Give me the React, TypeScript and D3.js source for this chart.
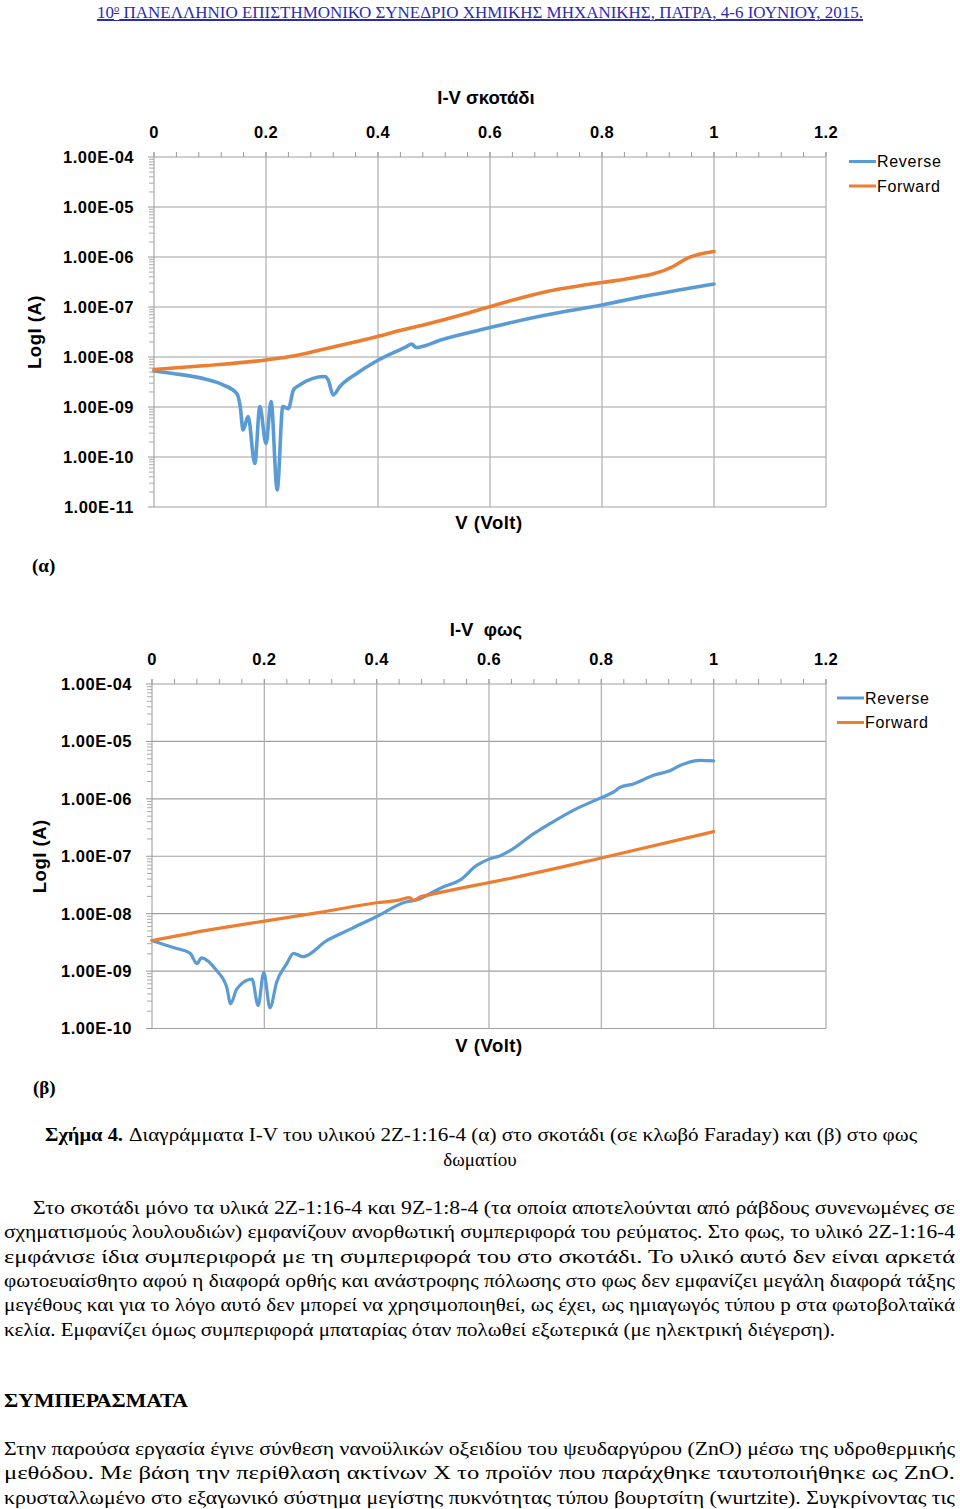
import React, { useRef, useEffect } from 'react';
import * as d3 from 'd3';

// I-V in the dark (a)
const darkReverseV = [0, 0.034, 0.094, 0.124, 0.148, 0.154, 0.159, 0.168, 0.18, 0.189, 0.2, 0.209, 0.22, 0.23, 0.24, 0.249, 0.26, 0.305, 0.311, 0.32, 0.332, 0.362, 0.399, 0.451, 0.46, 0.468, 0.515, 0.582, 0.6, 0.7, 0.8, 0.856, 1.0];
const darkReverseI = [5.25e-9, 4.68e-9, 3.55e-9, 2.75e-9, 1.86e-9, 1.02e-9, 3.47e-10, 6.46e-10, 7.41e-11, 1.02e-9, 1.86e-10, 1.29e-9, 2.19e-11, 1.02e-9, 9.3e-10, 2.19e-9, 2.75e-9, 4.07e-9, 3.47e-9, 1.74e-9, 2.57e-9, 4.68e-9, 8.5e-9, 1.62e-8, 1.82e-8, 1.55e-8, 2.24e-8, 3.47e-8, 3.89e-8, 6.9e-8, 1.1e-7, 1.48e-7, 2.88e-7];
const darkForwardV = [0, 0.094, 0.2, 0.243, 0.308, 0.399, 0.439, 0.481, 0.558, 0.6, 0.702, 0.8, 0.838, 0.927, 0.951, 1.0];
const darkForwardI = [5.62e-9, 6.76e-9, 8.71e-9, 1.02e-8, 1.48e-8, 2.57e-8, 3.39e-8, 4.37e-8, 7.41e-8, 1.02e-7, 2.04e-7, 3.09e-7, 3.55e-7, 6.46e-7, 9.33e-7, 1.29e-6];

// I-V in room light (b)
const lightReverseV = [0, 0.038, 0.068, 0.08, 0.088, 0.115, 0.133, 0.14, 0.151, 0.178, 0.189, 0.199, 0.21, 0.222, 0.24, 0.252, 0.269, 0.311, 0.353, 0.4, 0.45, 0.471, 0.519, 0.549, 0.578, 0.6, 0.62, 0.638, 0.679, 0.709, 0.75, 0.8, 0.822, 0.833, 0.857, 0.893, 0.922, 0.94, 0.976, 1.0];
const lightReverseI = [3.39e-9, 2.57e-9, 2.04e-9, 1.35e-9, 1.7e-9, 1.02e-9, 5.25e-10, 2.69e-10, 4.9e-10, 7.24e-10, 2.51e-10, 9.55e-10, 2.29e-10, 6.46e-10, 1.35e-9, 2.04e-9, 1.78e-9, 3.39e-9, 5.37e-9, 8.91e-9, 1.58e-8, 1.74e-8, 2.95e-8, 3.89e-8, 6.92e-8, 8.91e-8, 1.02e-7, 1.26e-7, 2.45e-7, 3.72e-7, 6.31e-7, 1.05e-6, 1.32e-6, 1.58e-6, 1.82e-6, 2.57e-6, 3.09e-6, 3.8e-6, 4.68e-6, 4.57e-6];
const lightForwardV = [0, 0.097, 0.2, 0.299, 0.4, 0.442, 0.458, 0.466, 0.477, 0.495, 0.584, 0.6, 0.8, 1.0];
const lightForwardI = [3.39e-9, 5.13e-9, 7.41e-9, 1.05e-8, 1.55e-8, 1.74e-8, 1.91e-8, 1.7e-8, 1.95e-8, 2.14e-8, 3.24e-8, 3.47e-8, 9.33e-8, 2.69e-7];

const xTicks = [0, 0.2, 0.4, 0.6, 0.8, 1, 1.2];
const seriesNames = ['Reverse', 'Forward'];
const seriesColors = ['#5B9BD5', '#ED7D31'];

const captionRest = 'Διαγράμματα I-V του υλικού 2Z-1:16-4 (α) στο σκοτάδι (σε κλωβό Faraday) και (β) στο φως';
const paragraph1 = [
  'Στο σκοτάδι μόνο τα υλικά 2Z-1:16-4 και 9Z-1:8-4 (τα οποία αποτελούνται από ράβδους συνενωμένες σε',
  'σχηματισμούς λουλουδιών) εμφανίζουν ανορθωτική συμπεριφορά του ρεύματος. Στο φως, το υλικό 2Z-1:16-4',
  'εμφάνισε ίδια συμπεριφορά με τη συμπεριφορά του στο σκοτάδι. Το υλικό αυτό δεν είναι αρκετά',
  'φωτοευαίσθητο αφού η διαφορά ορθής και ανάστροφης πόλωσης στο φως δεν εμφανίζει μεγάλη διαφορά τάξης',
  'μεγέθους και για το λόγο αυτό δεν μπορεί να χρησιμοποιηθεί, ως έχει, ως ημιαγωγός τύπου p στα φωτοβολταϊκά',
  'κελία. Εμφανίζει όμως συμπεριφορά μπαταρίας όταν πολωθεί εξωτερικά (με ηλεκτρική διέγερση).',
];
const paragraph2 = [
  'Στην παρούσα εργασία έγινε σύνθεση νανοϋλικών οξειδίου του ψευδαργύρου (ZnO) μέσω της υδροθερμικής',
  'μεθόδου. Με βάση την περίθλαση ακτίνων X το προϊόν που παράχθηκε ταυτοποιήθηκε ως ZnO.',
  'κρυσταλλωμένο στο εξαγωνικό σύστημα μεγίστης πυκνότητας τύπου βουρτσίτη (wurtzite). Συγκρίνοντας τις',
];

const SANS = 'Liberation Sans, Arial, sans-serif';
const SERIF = 'Liberation Serif, Times New Roman, serif';

interface ChartCfg {
  left: number; right: number; top: number; bottom: number;
  yMin: number; yMax: number;
  title: string; titleY: number;
  xLabelY: number; xTitleY: number; yTitleX: number;
  legendX: number; legendY: number;
  series: { v: number[]; i: number[] }[];
  lineWidth: number;
}

function drawChart(svg: d3.Selection<SVGSVGElement, unknown, null, undefined>, c: ChartCfg) {
  const g = svg.append('g');
  const x = d3.scaleLinear().domain([0, 1.2]).range([c.left, c.right]);
  const y = d3.scaleLog().domain([c.yMin, c.yMax]).range([c.bottom, c.top]);
  const decades = d3.range(Math.round(Math.log10(c.yMin)), Math.round(Math.log10(c.yMax)) + 1).map(e => Math.pow(10, e));

  // horizontal gridlines
  g.selectAll('.hg').data(decades).enter().append('line')
    .attr('x1', c.left).attr('x2', c.right)
    .attr('y1', d => y(d)).attr('y2', d => y(d))
    .attr('stroke', '#a0a0a0').attr('stroke-width', 1.1);
  // vertical gridlines
  g.selectAll('.vg').data(xTicks.slice(1)).enter().append('line')
    .attr('x1', d => x(d)).attr('x2', d => x(d))
    .attr('y1', c.top - 5).attr('y2', c.bottom)
    .attr('stroke', '#b4b4b4').attr('stroke-width', 1.3);
  // left axis
  g.append('line').attr('x1', c.left).attr('x2', c.left).attr('y1', c.top - 5).attr('y2', c.bottom)
    .attr('stroke', '#999').attr('stroke-width', 1);
  // minor ticks x
  g.selectAll('.xt').data(d3.range(0, 31).map(k => k * 0.04)).enter().append('line')
    .attr('x1', d => x(d)).attr('x2', d => x(d))
    .attr('y1', c.top - 5).attr('y2', c.top)
    .attr('stroke', '#999').attr('stroke-width', 1);
  // minor ticks y (log)
  const minors: number[] = [];
  decades.slice(0, -1).forEach(d => { for (let k = 2; k <= 9; k++) minors.push(d * k); });
  g.selectAll('.ym').data(minors).enter().append('line')
    .attr('x1', c.left - 5).attr('x2', c.left)
    .attr('y1', d => y(d)).attr('y2', d => y(d))
    .attr('stroke', '#aaa').attr('stroke-width', 1);
  g.selectAll('.yM').data(decades).enter().append('line')
    .attr('x1', c.left - 6).attr('x2', c.left)
    .attr('y1', d => y(d)).attr('y2', d => y(d))
    .attr('stroke', '#999').attr('stroke-width', 1);

  // tick labels
  g.selectAll('.xl').data(xTicks).enter().append('text')
    .attr('x', d => x(d)).attr('y', c.xLabelY)
    .attr('text-anchor', 'middle')
    .attr('font-family', SANS).attr('font-weight', 'bold').attr('font-size', 16.5)
    .attr('letter-spacing', 0.4)
    .text(d => String(d));
  g.selectAll('.yl').data(decades).enter().append('text')
    .attr('x', c.left - 20).attr('y', d => y(d)).attr('dy', '0.36em')
    .attr('text-anchor', 'end')
    .attr('font-family', SANS).attr('font-weight', 'bold').attr('font-size', 16.5)
    .attr('letter-spacing', 0.5)
    .text(d => {
      const e = Math.round(Math.log10(d));
      return `1.00E-${String(-e).padStart(2, '0')}`;
    });

  // titles
  g.append('text').attr('x', 486).attr('y', c.titleY).attr('text-anchor', 'middle')
    .attr('font-family', SANS).attr('font-weight', 'bold').attr('font-size', 18.5)
    .attr('xml:space', 'preserve').style('white-space', 'pre')
    .text(c.title);
  g.append('text').attr('x', 489).attr('y', c.xTitleY).attr('text-anchor', 'middle')
    .attr('font-family', SANS).attr('font-weight', 'bold').attr('font-size', 18.5)
    .attr('letter-spacing', 0.5)
    .text('V (Volt)');
  g.append('text')
    .attr('transform', `translate(${c.yTitleX},${(c.top + c.bottom) / 2}) rotate(-90)`)
    .attr('text-anchor', 'middle')
    .attr('font-family', SANS).attr('font-weight', 'bold').attr('font-size', 18.5)
    .attr('letter-spacing', 0.5)
    .text('LogI (A)');

  // series
  const line = d3.line<[number, number]>()
    .x(d => x(d[0])).y(d => y(d[1]))
    .curve(d3.curveMonotoneX);
  c.series.forEach((s, k) => {
    const pts = s.v.map((v, j) => [v, s.i[j]] as [number, number]);
    g.append('path').attr('d', line(pts) as string)
      .attr('fill', 'none').attr('stroke', seriesColors[k])
      .attr('stroke-width', c.lineWidth).attr('stroke-linejoin', 'round').attr('stroke-linecap', 'round');
  });

  // legend
  seriesNames.forEach((n, k) => {
    const ly = c.legendY + k * 24.5;
    g.append('line').attr('x1', c.legendX).attr('x2', c.legendX + 27)
      .attr('y1', ly).attr('y2', ly)
      .attr('stroke', seriesColors[k]).attr('stroke-width', 3);
    g.append('text').attr('x', c.legendX + 28).attr('y', ly).attr('dy', '0.36em')
      .attr('font-family', SANS).attr('font-size', 16).attr('letter-spacing', 0.7)
      .text(n);
  });
}

function justified(g: d3.Selection<SVGGElement, unknown, null, undefined>, lines: string[], x0: number, x1: number, y0: number, lh: number, firstIndent: number, lastWidth: number) {
  lines.forEach((t, k) => {
    const xs = k === 0 ? x0 + firstIndent : x0;
    const isLast = k === lines.length - 1;
    const txt = g.append('text').attr('x', xs).attr('y', y0 + k * lh)
      .attr('font-family', SERIF).attr('font-size', 19).text(t);
    if (!isLast) txt.attr('textLength', x1 - xs).attr('lengthAdjust', 'spacingAndGlyphs');
    else if (lastWidth > 0) txt.attr('textLength', lastWidth).attr('lengthAdjust', 'spacingAndGlyphs');
  });
}

export default function App() {
  const ref = useRef<SVGSVGElement>(null);

  useEffect(() => {
    if (!ref.current) return;
    const svg = d3.select(ref.current);
    svg.selectAll('*').remove();

    svg.append('rect').attr('width', 960).attr('height', 1509).attr('fill', '#fff');

    // page header
    const hdr = svg.append('text').attr('x', 97).attr('y', 18)
      .attr('font-family', SERIF).attr('font-size', 16).attr('fill', '#2b2bb0')
      .attr('text-decoration', 'underline');
    hdr.append('tspan').text('10');
    hdr.append('tspan').attr('dy', -6).attr('font-size', 10).text('ο');
    hdr.append('tspan').attr('dy', 6).text(' ΠΑΝΕΛΛΗΝΙΟ ΕΠΙΣΤΗΜΟΝΙΚΟ ΣΥΝΕΔΡΙΟ ΧΗΜΙΚΗΣ ΜΗΧΑΝΙΚΗΣ, ΠΑΤΡΑ, 4-6 ΙΟΥΝΙΟΥ, 2015.');
    hdr.attr('textLength', 766).attr('lengthAdjust', 'spacingAndGlyphs');
    svg.append('line').attr('x1', 97).attr('x2', 863).attr('y1', 20.5).attr('y2', 20.5)
      .attr('stroke', '#2b2bb0').attr('stroke-width', 1);

    drawChart(svg, {
      left: 154, right: 826, top: 157, bottom: 507,
      yMin: 1e-11, yMax: 1e-4,
      title: 'I-V σκοτάδι', titleY: 104,
      xLabelY: 137.5, xTitleY: 529, yTitleX: 41,
      legendX: 849, legendY: 161.5,
      series: [{ v: darkReverseV, i: darkReverseI }, { v: darkForwardV, i: darkForwardI }],
      lineWidth: 3.6,
    });
    drawChart(svg, {
      left: 152, right: 826, top: 684, bottom: 1028.5,
      yMin: 1e-10, yMax: 1e-4,
      title: 'I-V  φως', titleY: 636,
      xLabelY: 665, xTitleY: 1052, yTitleX: 46,
      legendX: 837, legendY: 698,
      series: [{ v: lightReverseV, i: lightReverseI }, { v: lightForwardV, i: lightForwardI }],
      lineWidth: 3.2,
    });

    svg.append('text').attr('x', 32).attr('y', 572)
      .attr('font-family', SERIF).attr('font-weight', 'bold').attr('font-size', 19).text('(α)');
    svg.append('text').attr('x', 33).attr('y', 1094)
      .attr('font-family', SERIF).attr('font-weight', 'bold').attr('font-size', 19).text('(β)');

    // caption
    svg.append('text').attr('x', 45).attr('y', 1141)
      .attr('font-family', SERIF).attr('font-weight', 'bold').attr('font-size', 19)
      .attr('textLength', 78).attr('lengthAdjust', 'spacingAndGlyphs').text('Σχήμα 4.');
    svg.append('text').attr('x', 129).attr('y', 1141)
      .attr('font-family', SERIF).attr('font-size', 19)
      .attr('textLength', 788).attr('lengthAdjust', 'spacingAndGlyphs').text(captionRest);
    svg.append('text').attr('x', 480).attr('y', 1166).attr('text-anchor', 'middle')
      .attr('font-family', SERIF).attr('font-size', 19).text('δωματίου');

    const body = svg.append('g');
    justified(body, paragraph1, 4, 955, 1214, 24.3, 29, 831);

    svg.append('text').attr('x', 4).attr('y', 1407)
      .attr('font-family', SERIF).attr('font-weight', 'bold').attr('font-size', 19)
      .attr('textLength', 184).attr('lengthAdjust', 'spacingAndGlyphs').text('ΣΥΜΠΕΡΑΣΜΑΤΑ');

    const body2 = svg.append('g');
    justified(body2, paragraph2, 4, 955, 1455, 24.3, 0, 951);
  }, []);

  return (
    <svg ref={ref} width={960} height={1509}
      style={{ position: 'absolute', left: 0, top: 0, display: 'block' }} />
  );
}
